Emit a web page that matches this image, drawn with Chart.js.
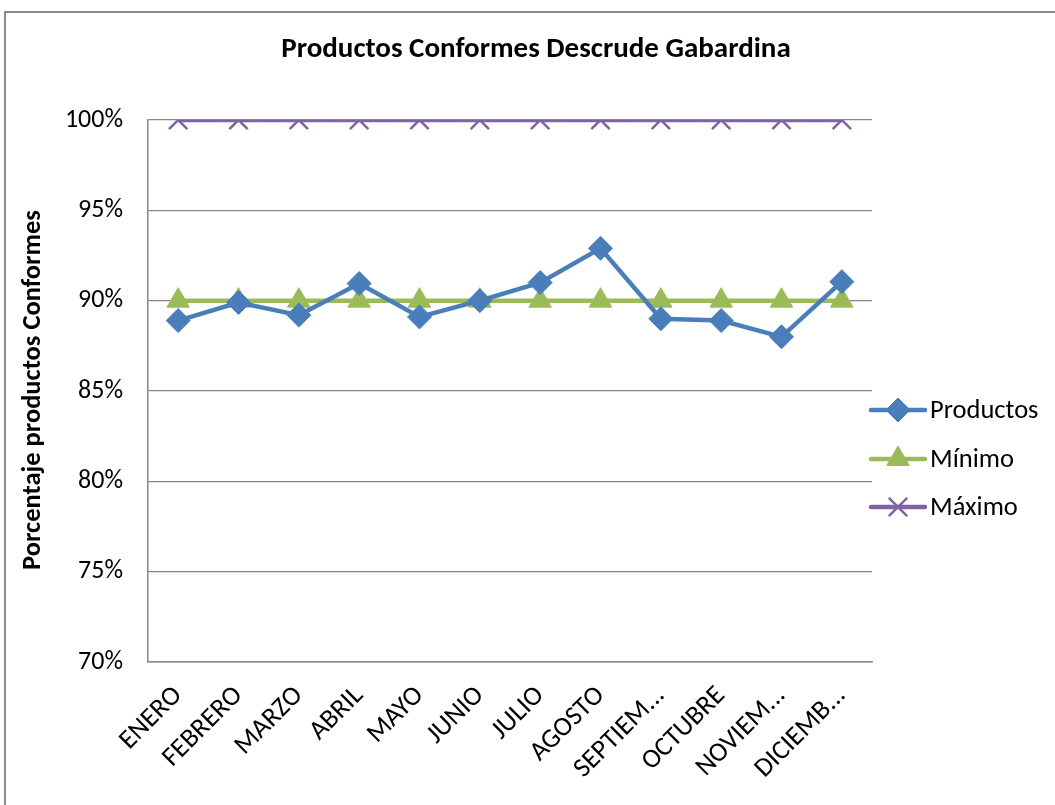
<!DOCTYPE html>
<html>
<head>
<meta charset="utf-8">
<script src="https://cdn.jsdelivr.net/npm/chart.js@4.4.1/dist/chart.umd.min.js"></script>
<style>
  html, body { margin: 0; padding: 0; background: #fff; overflow: hidden; }
  #wrap { position: relative; width: 1055px; height: 805px; }
  #frame { position: absolute; left: 4px; top: 11px; width: 1100px; height: 850px;
           border: 2px solid #8c8c8c; box-sizing: border-box; pointer-events: none; }
  canvas { position: absolute; left: 0; top: 0; }
</style>
</head>
<body>
<div id="wrap">
  <canvas id="c" width="1055" height="805"></canvas>
  <div id="frame"></div>
</div>
<script>
// Monthly share of conforming products, with the lower and upper limits
const months = ['ENERO', 'FEBRERO', 'MARZO', 'ABRIL', 'MAYO', 'JUNIO', 'JULIO', 'AGOSTO',
                'SEPTIEM...', 'OCTUBRE', 'NOVIEM...', 'DICIEMB...'];
const productos = [88.9, 89.9, 89.2, 90.95, 89.1, 90.0, 91.0, 92.9, 89.0, 88.9, 88.0, 91.05];
const minimo = [90, 90, 90, 90, 90, 90, 90, 90, 90, 90, 90, 90];
const maximo = [100, 100, 100, 100, 100, 100, 100, 100, 100, 100, 100, 100];
const yTicks = [70, 75, 80, 85, 90, 95, 100];

const chartTitle = 'Productos Conformes Descrude Gabardina';
const yTitle = 'Porcentaje productos Conformes';
const FONT = "Carlito, Lato, 'Liberation Sans', sans-serif";

const blue = '#4a7ebb', green = '#9bbb59', purple = '#8064a2';

// Title, rotated axis title and a line+marker legend on the right
const decorations = {
  id: 'decorations',
  afterDraw(chart) {
    const ctx = chart.ctx;
    ctx.save();
    ctx.fillStyle = '#000';
    ctx.textAlign = 'center';
    ctx.textBaseline = 'middle';
    ctx.font = 'bold 29px ' + FONT;
    ctx.fillText(chartTitle, 536, 50);

    ctx.save();
    ctx.translate(33, 390);
    ctx.rotate(-Math.PI / 2);
    ctx.font = 'bold 26.5px ' + FONT;
    ctx.fillText(yTitle, 0, 0);
    ctx.restore();

    const x0 = 871, x1 = 925, rows = [410, 459, 507];
    chart.data.datasets.forEach((ds, i) => {
      const y = rows[i];
      ctx.strokeStyle = ds.borderColor;
      ctx.lineWidth = ds.borderWidth;
      ctx.lineCap = 'round';
      ctx.beginPath();
      ctx.moveTo(x0, y);
      ctx.lineTo(x1, y);
      ctx.stroke();
      ctx.fillStyle = ds.pointBackgroundColor;
      ctx.strokeStyle = ds.pointBorderColor;
      ctx.lineWidth = ds.pointBorderWidth;
      ctx.lineCap = 'butt';
      Chart.helpers.drawPoint(ctx, {
        pointStyle: ds.pointStyle,
        radius: ds.pointRadius,
        borderWidth: ds.pointBorderWidth,
        rotation: 0
      }, (x0 + x1) / 2, y);
      ctx.fillStyle = '#000';
      ctx.textAlign = 'left';
      ctx.font = '26.5px ' + FONT;
      ctx.fillText(ds.label, 930, y + 1);
    });
    ctx.restore();
  }
};

new Chart(document.getElementById('c'), {
  type: 'line',
  data: {
    labels: months,
    datasets: [
      { label: 'Productos', data: productos, borderColor: blue, backgroundColor: blue,
        borderWidth: 4.5, pointStyle: 'rectRot', pointRadius: 12, pointBorderWidth: 1,
        pointBackgroundColor: blue, pointBorderColor: blue, order: 1 },
      { label: 'Mínimo', data: minimo, borderColor: green, backgroundColor: green,
        borderWidth: 4.5, pointStyle: 'triangle', pointRadius: 13, pointBorderWidth: 1,
        pointBackgroundColor: green, pointBorderColor: green, order: 2 },
      { label: 'Máximo', data: maximo, borderColor: purple, backgroundColor: purple,
        borderWidth: 4.5, pointStyle: 'crossRot', pointRadius: 13, pointBorderWidth: 2.5,
        pointBackgroundColor: purple, pointBorderColor: purple, order: 3 }
    ]
  },
  options: {
    responsive: false,
    animation: false,
    layout: { padding: { top: 120, right: 183, left: 0, bottom: 0 } },
    plugins: {
      legend: { display: false },
      title: { display: false },
      tooltip: { enabled: false }
    },
    scales: {
      x: {
        offset: true,
        grid: { display: false, drawTicks: false },
        border: { display: true, color: '#868686', width: 1.5 },
        ticks: { color: '#000', font: { family: FONT, size: 27 }, minRotation: 45, maxRotation: 45,
                 padding: 18, autoSkip: false },
        afterFit(scale) { scale.height = 143; }
      },
      y: {
        min: 70, max: 100,
        afterBuildTicks(scale) { scale.ticks = yTicks.map(v => ({ value: v })); },
        grid: { color: '#868686', lineWidth: 1.3, drawTicks: false },
        border: { display: true, color: '#868686', width: 1.5 },
        ticks: { color: '#000', font: { family: FONT, size: 26 }, padding: 25,
                 callback: v => v + '%' },
        afterFit(scale) { scale.width = 148; }
      }
    }
  },
  plugins: [decorations]
});
</script>
</body>
</html>
